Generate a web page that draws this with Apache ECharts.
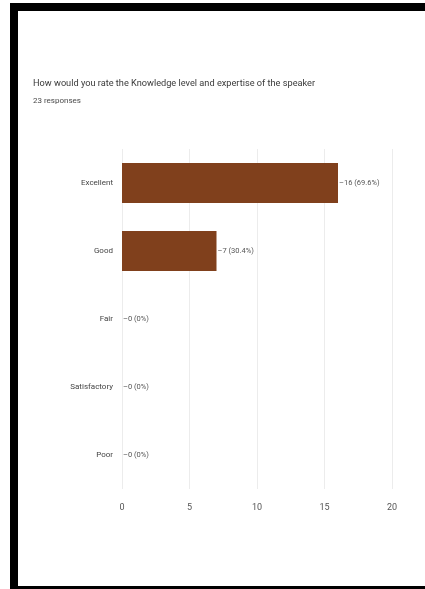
<!DOCTYPE html>
<html>
<head>
<meta charset="utf-8">
<script src="https://cdn.jsdelivr.net/npm/echarts@6/dist/echarts.min.js"></script>
<style>
html,body{margin:0;padding:0;background:#fff;width:425px;height:589px;overflow:hidden;}
#frame{position:absolute;top:3px;left:10px;width:430px;height:591px;box-sizing:border-box;border-top:8px solid #000;border-left:8px solid #000;border-bottom:8px solid #000;}
#chart{position:absolute;top:0;left:0;width:425px;height:589px;}
</style>
</head>
<body>
<div id="frame"></div>
<div id="chart"></div>
<script>
const titleText = "How would you rate the Knowledge level and expertise of the speaker";
const subtitleText = "23 responses";
const categories = ["Excellent", "Good", "Fair", "Satisfactory", "Poor"];
const counts = [16, 7, 0, 0, 0];
const xTicks = [0, 5, 10, 15, 20];
const total = 23;

const FONT = 'Roboto, sans-serif';
const chart = echarts.init(document.getElementById('chart'), null, {renderer: 'canvas'});
chart.setOption({
  backgroundColor: 'transparent',
  animation: false,
  title: {
    text: titleText,
    subtext: subtitleText,
    left: 28,
    top: 74,
    itemGap: 9,
    textStyle: {fontFamily: FONT, fontSize: 9.2, fontWeight: 'normal', color: '#3a3a3a'},
    subtextStyle: {fontFamily: FONT, fontSize: 8, color: '#4a4a4a'}
  },
  grid: {left: 122, right: 33, top: 149, bottom: 100, containLabel: false},
  xAxis: {
    type: 'value',
    min: xTicks[0],
    max: xTicks[xTicks.length - 1],
    interval: 5,
    axisLine: {show: false},
    axisTick: {show: false},
    axisLabel: {fontFamily: FONT, fontSize: 9, color: '#555', margin: 14},
    splitLine: {show: true, lineStyle: {color: '#ececec', width: 1}}
  },
  yAxis: {
    type: 'category',
    data: categories,
    inverse: true,
    axisLine: {show: false},
    axisTick: {show: false},
    axisLabel: {fontFamily: FONT, fontSize: 8, color: '#444', margin: 9},
    splitLine: {show: false}
  },
  series: [{
    type: 'bar',
    data: counts,
    barWidth: 40,
    itemStyle: {color: '#80401c'},
    label: {
      show: true,
      position: 'right',
      distance: 1,
      fontFamily: FONT,
      fontSize: 7.5,
      color: '#555',
      formatter: function (p) {
        const pct = p.value === 0 ? '0%' : (Math.round(p.value / total * 1000) / 10) + '%';
        return '\u2013' + p.value + ' (' + pct + ')';
      }
    }
  }]
});
</script>
</body>
</html>
